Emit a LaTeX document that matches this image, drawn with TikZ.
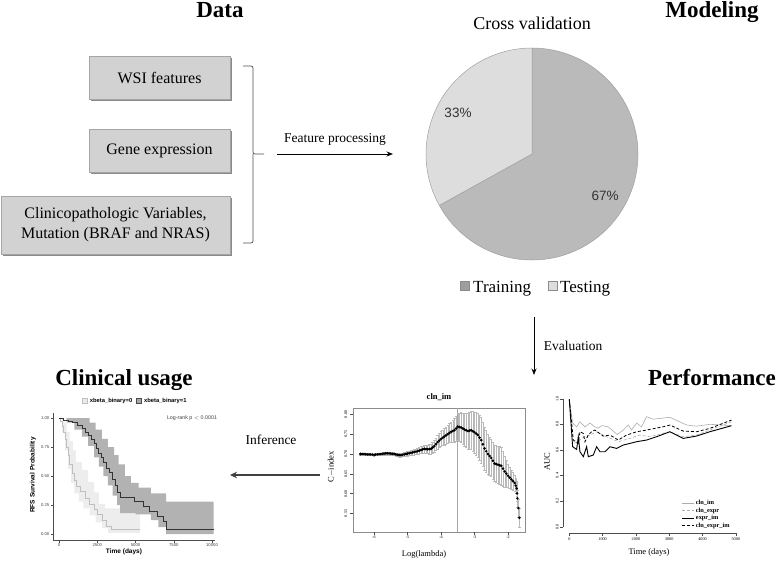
\documentclass[tikz,border=0pt]{standalone}
\usepackage{fontspec}
\setmainfont{Liberation Serif}
\newfontfamily\plotsans{Liberation Sans}
\usetikzlibrary{positioning, calc, arrows.meta, shadows}

\definecolor{boxgray}{RGB}{210,210,210}
\definecolor{boxedge}{RGB}{165,165,165}
\definecolor{traingray}{RGB}{186,186,186}
\definecolor{testgray}{RGB}{221,221,221}
\definecolor{pieedge}{RGB}{160,160,160}

% log(lambda) / C-index / error
\def\cvdata{-6.40/.700/.002, -6.30/.700/.002, -6.20/.699/.002, -6.10/.699/.002,
    -6.00/.698/.003, -5.90/.699/.003, -5.80/.700/.003, -5.70/.701/.003, -5.60/.702/.004,
    -5.50/.701/.004, -5.40/.700/.004, -5.30/.698/.005, -5.20/.697/.005, -5.10/.699/.005,
    -5.00/.701/.006, -4.90/.703/.006, -4.80/.705/.007, -4.70/.707/.008, -4.60/.710/.009,
    -4.50/.713/.010, -4.40/.712/.011, -4.30/.713/.013, -4.20/.720/.015, -4.10/.730/.017,
    -4.00/.738/.019, -3.90/.744/.021, -3.80/.750/.023, -3.70/.756/.026, -3.60/.760/.030,
    -3.50/.769/.034, -3.40/.767/.038, -3.30/.762/.042, -3.20/.758/.046, -3.10/.760/.049,
    -3.00/.755/.052, -2.90/.748/.056, -2.80/.735/.058, -2.70/.714/.055, -2.60/.700/.050,
    -2.50/.690/.047, -2.40/.676/.046, -2.30/.673/.048, -2.20/.670/.048, -2.10/.656/.040,
    -2.00/.645/.030, -1.90/.636/.024, -1.80/.627/.020, -1.74/.613/.020, -1.72/.588/.022,
    -1.66/.539/.025}

\begin{document}
\begin{tikzpicture}[x=1pt, y=-1pt,
    databox/.style={draw=boxedge, fill=boxgray, align=center, inner sep=2pt,
      font=\fontsize{16}{20}\selectfont,
      drop shadow={shadow xshift=1.6pt, shadow yshift=-1.6pt, fill=black!65, opacity=0.7}},
    stagetitle/.style={anchor=base, font=\fontsize{23}{26}\selectfont\bfseries},
    steplabel/.style={font=\fontsize{13.5}{16}\selectfont},
    flow/.style={line width=1pt, -{Stealth[length=6.5pt, width=5pt]}},
    brace/.style={draw=black!70, line width=0.7pt, rounded corners=2pt},
    legsq/.style={draw=gray!90, minimum size=9pt, inner sep=0pt},
    legtext/.style={anchor=base west, inner sep=0pt, font=\fontsize{17}{19}\selectfont},
    pct/.style={font=\plotsans\fontsize{13.5}{15}\selectfont, text=black!80},
    tinyserif/.style={font=\fontsize{4.2}{5}\selectfont, inner sep=1pt},
    tinysans/.style={font=\plotsans\fontsize{4.2}{5}\selectfont, inner sep=1pt, text=black!75},
    axisline/.style={line width=0.4pt, draw=black!70},
    cvbar/.style={draw=gray!55, line width=0.3pt, {Bar[width=2.4pt]}-{Bar[width=2.4pt]}},
    cvdot/.style={circle, fill=black, inner sep=0pt, minimum size=2.9pt},
    aucclnim/.style={gray!65, line width=0.6pt},
    aucclnexpr/.style={gray!65, line width=0.6pt, dash pattern=on 3pt off 2pt},
    aucexprim/.style={black, line width=0.9pt},
    aucall/.style={black, line width=0.8pt, dash pattern=on 3pt off 2pt},
  ]

    \useasboundingbox (0,0) rectangle (778,560);

    % --- STAGE TITLES ---
    \node[stagetitle] (datatitle) at (220,17) {Data};
    \node[stagetitle] (modeltitle) at (712,17) {Modeling};
    \node[stagetitle] (clintitle) at (124,385) {Clinical usage};
    \node[stagetitle] (perftitle) at (712,385) {Performance};

    % --- DATA COLUMN ---
    \node[databox, minimum width=141pt, minimum height=43pt] (wsi) at (159.5,77.5) {WSI features};
    \node[databox, minimum width=141pt, minimum height=43pt] (gene) at (159.5,150.5) {Gene expression};
    \node[databox, minimum width=229pt, minimum height=58pt] (clin) at (115.5,225)
        {Clinicopathologic Variables,\\Mutation (BRAF and NRAS)};

    % Brace gathering the three inputs
    \draw[brace] (243,66) -| (253,154) -- (264,154);
    \draw[brace] (253,154) |- (243,243);

    % Feature processing arrow
    \coordinate (fpstart) at (277,154);
    \coordinate (fpend) at (393,154);
    \draw[flow] (fpstart) -- node[steplabel, above=5pt] (fplabel) {Feature processing} (fpend);

    % --- MODELING: PIE CHART ---
    \node[font=\fontsize{18}{20}\selectfont, anchor=base] (cvtitle) at (532,29) {Cross validation};
    \coordinate (piecenter) at (532,154);
    \begin{scope}[shift={(piecenter)}, yscale=-1]
        \filldraw[draw=pieedge, fill=traingray, line width=0.5pt]
            (0,0) -- (90:106) arc[start angle=90, end angle=-151, radius=106] -- cycle;
        \filldraw[draw=pieedge, fill=testgray, line width=0.5pt]
            (0,0) -- (209:106) arc[start angle=209, end angle=90, radius=106] -- cycle;
    \end{scope}
    \node[pct] (pcttest) at (458,113) {33\%};
    \node[pct] (pcttrain) at (605,196) {67\%};

    % Legend
    \node[legsq, fill=traingray!85!black] (trainsq) at (465,286) {};
    \node[legtext] (traintext) at (473,292) {Training};
    \node[legsq, fill=testgray] (testsq) at (553,286) {};
    \node[legtext] (testtext) at (560,292) {Testing};

    % Evaluation arrow
    \coordinate (evstart) at (534,317);
    \coordinate (evend) at (534,375);
    \draw[flow] (evstart) -- node[steplabel, right=6pt] (evlabel) {Evaluation} (evend);

    % Inference arrow
    \coordinate (infstart) at (320,475);
    \coordinate (infend) at (230,475);
    \draw[line width=1.8pt, draw=black!75, -{Stealth[length=7pt, width=6.5pt]}]
        (infstart) -- node[steplabel, above=26pt, xshift=-4pt] (inflabel) {Inference} (infend);

    % --- CLINICAL USAGE: KAPLAN-MEIER ---
    \node[legsq, minimum size=5pt, draw=gray!50, fill=black!8] (kmsq0) at (85,401) {};
    \node[font=\plotsans\bfseries\fontsize{5.8}{7}\selectfont, right=2pt of kmsq0, inner sep=0pt] (kmleg0) {xbeta\_binary=0};
    \node[legsq, minimum size=5pt, draw=black!70, fill=black!35, right=4pt of kmleg0] (kmsq1) {};
    \node[font=\plotsans\bfseries\fontsize{5.8}{7}\selectfont, right=2pt of kmsq1, inner sep=0pt] (kmleg1) {xbeta\_binary=1};
    \node[tinysans, font=\plotsans\fontsize{5.3}{6}\selectfont] (logrank) at (192,418) {Log-rank p $<$ 0.0001};

    \begin{scope}[shift={(59,534)}, xscale=15.3, yscale=-116]
        % confidence bands
        \fill[black!7] plot[const plot] coordinates {(0,1) (0.3,.96) (0.5,.88) (0.7,.80) (0.9,.72) (1.1,.62)
            (1.5,.55) (1.9,.45) (2.3,.36) (2.6,.26) (3.0,.22) (5.3,.22)}
            -- plot[const plot mark right] coordinates {(5.3,.01) (3.2,.01) (2.8,.05) (2.4,.10) (2.0,.16)
            (1.6,.22) (1.3,.28) (1.0,.35) (0.8,.44) (0.6,.56) (0.4,.72) (0.2,.88) (0,1)} -- cycle;
        \fill[black!30] plot[const plot] coordinates {(0,1) (1.5,1) (2.0,.96) (2.4,.90) (2.8,.82) (3.2,.75)
            (3.6,.68) (3.9,.60) (4.3,.50) (4.7,.44) (5.2,.40) (6.0,.35) (7.0,.28) (10.1,.28)}
            -- plot[const plot mark right] coordinates {(10.1,0) (7.0,0) (6.5,.06) (6.0,.12) (5.0,.17) (4.0,.18)
            (3.8,.25) (3.5,.33) (3.2,.42) (2.9,.50) (2.6,.58) (2.3,.66) (1.9,.76) (1.5,.84) (1.0,.90) (0.5,.96) (0,1)} -- cycle;
        % survival curves
        \draw[black!25, line width=0.6pt] plot[const plot] coordinates {(0,1) (0.1,.97) (0.2,.93) (0.3,.88)
            (0.4,.82) (0.5,.75) (0.6,.68) (0.7,.60) (0.85,.52) (1.0,.46) (1.15,.41) (1.4,.37) (1.7,.31)
            (2.0,.26) (2.3,.21) (2.5,.17) (2.8,.12) (3.1,.07) (3.4,.04) (5.3,.04)};
        \draw[black!80, line width=0.6pt] plot[const plot] coordinates {(0,1) (0.3,.98) (0.6,.97) (0.9,.96)
            (1.2,.94) (1.5,.91) (1.7,.88) (1.9,.85) (2.1,.82) (2.3,.78) (2.45,.74) (2.6,.70) (2.75,.66)
            (2.9,.62) (3.1,.57) (3.3,.53) (3.5,.47) (3.65,.42) (3.8,.36) (4.0,.32) (4.9,.28) (5.5,.24)
            (5.9,.20) (6.4,.15) (6.8,.11) (7.0,.04) (10.1,.04)};
    \end{scope}
    \draw[axisline] (53,413) -- (53,540) -- (215,540);
    \foreach \sv [count=\i] in {0.00,0.25,0.50,0.75,1.00}
        \draw[axisline] (53,{534-116*\sv}) -- ++(-2.5,0) node[tinysans, left] (kmy\i) {\sv};
    \foreach \tv/\tl [count=\i] in {0/0,2.5/2500,5/5000,7.5/7500,10/10000}
        \draw[axisline] ({59+15.3*\tv},540) -- ++(0,2.5) node[tinysans, below] (kmx\i) {\tl};
    \node[rotate=90, font=\plotsans\bfseries\fontsize{6.5}{7}\selectfont] (kmylab) at (33,475) {RFS Survival Probability};
    \node[font=\plotsans\bfseries\fontsize{6.5}{7}\selectfont] (kmxlab) at (124,552) {Time (days)};

    % --- C-INDEX CURVE ---
    \node[font=\fontsize{8.5}{9}\selectfont\bfseries] (cvplottitle) at (439,397) {cln\_im};
    \draw[line width=0.4pt, draw=black!45] (353,408) rectangle (525,532);
    \foreach \cv [count=\i] in {0.55,0.60,0.65,0.70,0.75,0.80}
        \draw[axisline] (353,{731.2-396*\cv}) -- ++(-3,0) node[tinyserif, anchor=south, rotate=90, inner sep=2.5pt] (cvy\i) {\cv};
    \foreach \lv [count=\i] in {-6,-5,-4,-3,-2}
        \draw[axisline] ({575+33.5*\lv},532) -- ++(0,3) node[tinyserif, below] (cvx\i) {\lv};
    \draw[draw=gray!70, line width=0.8pt] ({575+33.5*(-3.5)},408) -- ++(0,124);
    \begin{scope}[shift={(575,731.2)}, xscale=33.5, yscale=-396]
        % error bars, with one extra bar half way between two grid points
        \foreach \lv/\cv/\ev [remember=\lv as \lp (initially -6.40), remember=\cv as \cp (initially .700),
                remember=\ev as \ep (initially .002)] in \cvdata {
            \draw[cvbar] ({(\lp+\lv)/2},{(\cp+\cv)/2-(\ep+\ev)/2}) -- ({(\lp+\lv)/2},{(\cp+\cv)/2+(\ep+\ev)/2});
            \draw[cvbar] (\lv,{\cv-\ev}) -- (\lv,{\cv+\ev});
        }
        \foreach \lv/\cv/\ev [count=\i, remember=\lv as \lp (initially -6.40), remember=\cv as \cp (initially .700)]
                in \cvdata {
            \node[cvdot] (cvmid\i) at ({(\lp+\lv)/2},{(\cp+\cv)/2}) {};
            \node[cvdot] (cvpt\i) at (\lv,\cv) {};
        }
    \end{scope}
    \node[rotate=90, font=\fontsize{8.5}{9}\selectfont] (cvylab) at (331,467) {C$-$index};
    \node[font=\fontsize{8.5}{9}\selectfont] (cvxlab) at (424,554) {Log(lambda)};

    % --- PERFORMANCE: TIME-DEPENDENT AUC ---
    \draw[axisline] (563.3,526.7) -- (563.3,398.7);
    \draw[axisline] (569.3,533.3) -- (735.8,533.3);
    \foreach \av [count=\i] in {0.0,0.2,0.4,0.6,0.8,1.0}
        \draw[axisline] (563.3,{526.7-128*\av}) -- ++(-3,0) node[tinyserif, anchor=south, rotate=90, inner sep=1.5pt] (auy\i) {\av};
    \foreach \tv/\tl [count=\i] in {0/0,1/1000,2/2000,3/3000,4/4000,5/5000}
        \draw[axisline] ({569.3+33.3*\tv},533.3) -- ++(0,3) node[tinyserif, below] (aux\i) {\tl};
    \begin{scope}[shift={(569.3,526.7)}, xscale=33.3, yscale=-128]
        \draw[aucclnim] plot coordinates {(0,.995) (.1,.81) (.22,.78) (.32,.82) (.47,.78)
            (.62,.81) (.77,.78) (.87,.77) (.97,.79) (1.17,.78) (1.44,.72) (1.62,.755) (1.77,.795)
            (1.87,.755) (2.02,.81) (2.17,.78) (2.32,.86) (2.52,.84) (3.02,.855) (3.52,.795) (3.82,.785)
            (4.22,.80) (4.87,.79)};
        \draw[aucclnexpr] plot coordinates {(0,.995) (.12,.651)
            (.27,.664) (.37,.69) (.47,.703) (.62,.716) (.82,.742) (1.12,.703) (1.47,.664) (1.82,.69)
            (2.12,.716) (2.42,.703) (3.02,.742) (3.42,.703) (3.82,.716) (4.22,.755) (4.87,.82)};
        \draw[aucexprim] plot coordinates {(0,.995) (.1,.625) (.22,.604) (.27,.703) (.32,.586)
            (.42,.547) (.52,.625) (.57,.547) (.72,.56) (.82,.625) (.92,.586) (1.07,.586) (1.22,.625)
            (1.42,.612) (1.62,.638) (1.82,.651) (2.02,.664) (2.32,.677) (2.62,.703) (3.02,.742)
            (3.42,.69) (3.82,.708) (4.22,.742) (4.87,.789)};
        \draw[aucall] plot coordinates {(0,.995) (.12,.677)
            (.27,.651) (.32,.742) (.42,.729) (.47,.664) (.57,.716) (.67,.742) (.77,.755) (1.02,.708)
            (1.22,.716) (1.47,.677) (1.72,.716) (2.02,.742) (2.32,.755) (2.82,.781) (3.02,.794)
            (3.42,.747) (3.82,.742) (4.22,.768) (4.87,.833)};
    \end{scope}
    \node[rotate=90, font=\fontsize{8.5}{9}\selectfont] (auylab) at (547,462) {AUC};
    \node[font=\fontsize{8.5}{9}\selectfont] (auxlab) at (649,552) {Time (days)};

    % AUC legend
    \foreach \y/\sty/\lab [count=\i] in {503/aucclnim/cln\_im, 510.5/aucclnexpr/cln\_expr,
        518/aucexprim/expr\_im, 525.5/aucall/cln\_expr\_im}
        \draw[\sty] (682,\y) -- (694,\y) node[right=1.5pt, inner sep=0pt, text=black,
            font=\fontsize{6.3}{7}\selectfont\bfseries] (auleg\i) {\lab};

\end{tikzpicture}
\end{document}
